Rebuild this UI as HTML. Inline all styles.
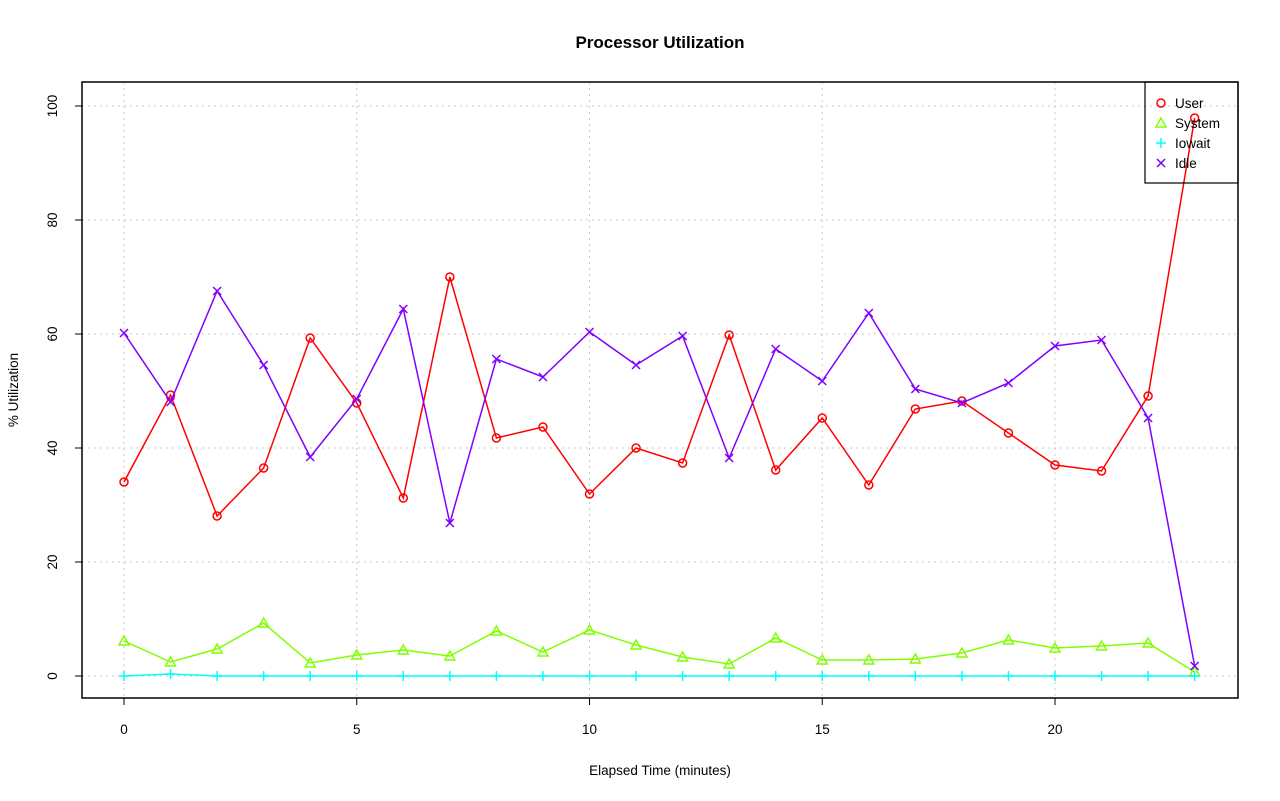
<!DOCTYPE html>
<html><head><meta charset="utf-8"><style>body{margin:0;background:#fff}svg{display:block}text{font-family:"Liberation Sans",sans-serif}</style></head>
<body>
<svg id="s" width="1280" height="801" xmlns="http://www.w3.org/2000/svg">
<rect width="1280" height="801" fill="#fff"/>
<text x="660" y="48" font-size="17" font-weight="bold" text-anchor="middle">Processor Utilization</text>
<text x="660" y="775" font-size="13.5" text-anchor="middle">Elapsed Time (minutes)</text>
<text transform="translate(18,390) rotate(-90)" font-size="13.5" text-anchor="middle">% Utilization</text>
<g id="grid" stroke="#c8c8c8" stroke-dasharray="2,4" stroke-width="1"></g>
<rect x="82" y="82" width="1156" height="616" fill="none" stroke="#000" stroke-width="1.5"/>
<g id="ax" stroke="#000" font-size="13.5"></g>
<g id="ser"></g>
<rect x="1145" y="82" width="93" height="101" fill="none" stroke="#000" stroke-width="1.2"/>
<g id="leg" font-size="13.5"></g>
</svg>
<script>
const NS="http://www.w3.org/2000/svg";
function el(p,t,a,txt){const e=document.createElementNS(NS,t);for(const k in a)e.setAttribute(k,a[k]);if(txt!==undefined)e.textContent=txt;p.appendChild(e);return e;}
const X=i=>124+i*46.55, Y=v=>676-v*5.7;
const g=document.getElementById('grid'),ax=document.getElementById('ax');
for(let i=0;i<=20;i+=5){el(g,'line',{x1:X(i),x2:X(i),y1:82,y2:698});el(ax,'line',{x1:X(i),x2:X(i),y1:698,y2:705});el(ax,'text',{x:X(i),y:734,'text-anchor':'middle',stroke:'none'},i);}
el(ax,'line',{x1:X(0),x2:X(20),y1:698,y2:698});
for(let v=0;v<=100;v+=20){el(g,'line',{x1:82,x2:1238,y1:Y(v),y2:Y(v)});el(ax,'line',{x1:75,x2:82,y1:Y(v),y2:Y(v)});el(ax,'text',{transform:`translate(57,${Y(v)}) rotate(-90)`,'text-anchor':'middle',stroke:'none'},v);}
el(ax,'line',{x1:82,x2:82,y1:Y(0),y2:Y(100)});
const S=[
['#ff0000','o',[482,395,516,468,338,403,498,277,438,427,494,448,463,335,470,418,485,409,401,433,465,471,396,118]],
['#80ff00','t',[641,662,649,623,663,655,650,656,631,652,630,645,657,664,638,660,660,659,653,640,648,646,643,672]],
['#00ffff','p',[676,674,676,676,676,676,676,676,676,676,676,676,676,676,676,676,676,676,676,676,676,676,676,676]],
['#8000ff','x',[333,402,291,365,457,399,309,523,359,377,332,365,336,458,349,381,313,389,403,383,346,340,418,666]]];
const ser=document.getElementById('ser');
function sym(p,t,x,y,c){const a={stroke:c,'stroke-width':1.5,fill:'none'};
 if(t=='o'){el(p,'circle',Object.assign({cx:x,cy:y,r:4,fill:'#fff'},a));}
 else if(t=='t'){el(p,'polygon',Object.assign({points:`${x},${y-5} ${x-5},${y+4} ${x+5},${y+4}`,fill:'#fff'},a));}
 else if(t=='p'){el(p,'path',Object.assign({d:`M${x-5},${y}h10M${x},${y-5}v10`},a));}
 else el(p,'path',Object.assign({d:`M${x-4},${y-4}l8,8M${x-4},${y+4}l8,-8`},a));}
S.forEach(([c,t,d])=>{el(ser,'polyline',{points:d.map((y,i)=>X(i)+','+y).join(' '),fill:'none',stroke:c,'stroke-width':1.5});d.forEach((y,i)=>sym(ser,t,X(i),y,c));});
const leg=document.getElementById('leg');
['User','System','Iowait','Idle'].forEach((n,i)=>{const y=103+i*20;sym(leg,S[i][1],1161,y,S[i][0]);el(leg,'text',{x:1175,y:y+5},n);});
</script>
</body></html>
